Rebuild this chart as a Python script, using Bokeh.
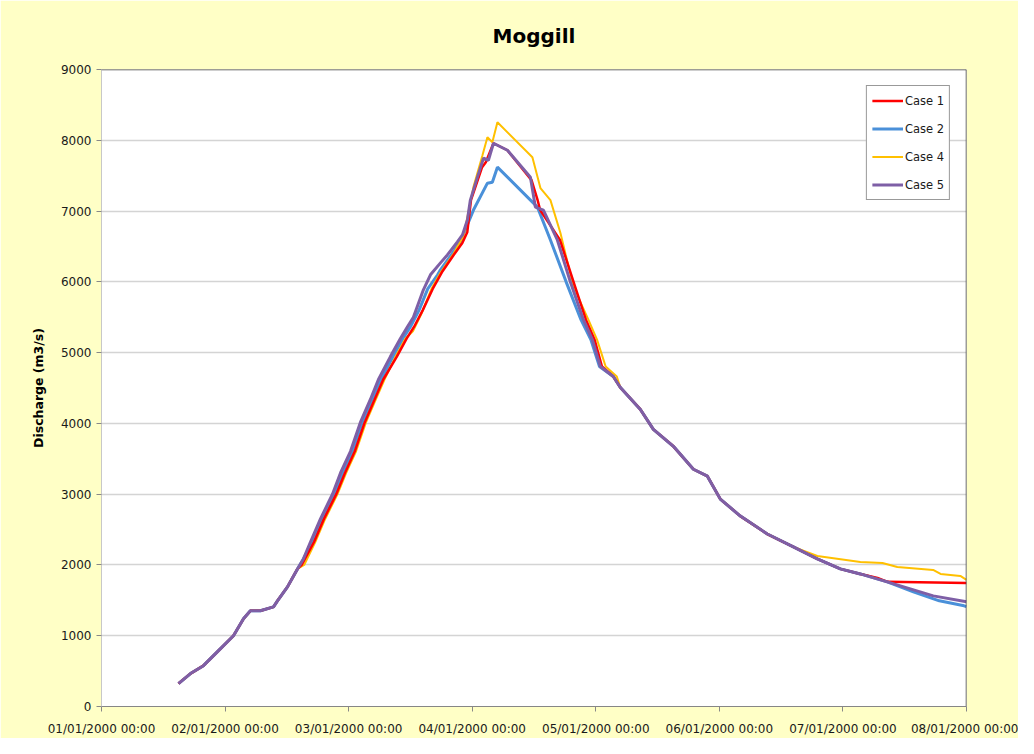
from bokeh.plotting import figure
from bokeh.models import FixedTicker, Span, Range1d
from bokeh.embed import file_html
from bokeh.resources import INLINE

# ---- data (days since 01/01/2000 00:00, discharge m3/s) ----
day_ticks = [0, 1, 2, 3, 4, 5, 6, 7]
day_labels = ["01/01/2000 00:00", "02/01/2000 00:00", "03/01/2000 00:00", "04/01/2000 00:00",
              "05/01/2000 00:00", "06/01/2000 00:00", "07/01/2000 00:00", "08/01/2000 00:00"]
y_ticks = [0, 1000, 2000, 3000, 4000, 5000, 6000, 7000, 8000, 9000]

t_case5 = [0.623, 0.720, 0.825, 0.939, 1.068, 1.149, 1.205, 1.286, 1.392, 1.424, 1.505, 1.586,
           1.634, 1.691, 1.772, 1.869, 1.934, 2.015, 2.095, 2.176, 2.241, 2.338, 2.419, 2.476,
           2.524, 2.605, 2.662, 2.743, 2.799, 2.880, 2.921, 2.961, 2.985, 3.042, 3.091, 3.131,
           3.172, 3.285, 3.471, 3.511, 3.576, 3.689, 3.794, 3.900, 3.972, 4.037, 4.142, 4.199,
           4.361, 4.466, 4.628, 4.790, 4.903, 5.008, 5.170, 5.388, 5.599, 5.793, 5.979, 6.141,
           6.359, 6.545, 6.731, 7.000]
v_case5 = [324, 465, 577, 775, 1000, 1239, 1352, 1352, 1408, 1493, 1690, 1944,
           2085, 2324, 2650, 3000, 3300, 3606, 4014, 4338, 4620, 4944, 5200, 5366,
           5500, 5887, 6099, 6268, 6380, 6563, 6662, 6873, 7155, 7479, 7746, 7718,
           7958, 7859, 7479, 7056, 7014, 6592, 6000, 5465, 5183, 4803, 4662, 4507,
           4197, 3915, 3676, 3352, 3254, 2930, 2690, 2437, 2254, 2085, 1944, 1873,
           1761, 1662, 1563, 1479]

t_case1 = [0.623, 0.720, 0.825, 0.939, 1.068, 1.149, 1.205, 1.286, 1.392, 1.424, 1.505, 1.586,
           1.62, 1.72, 1.80, 1.90, 1.97, 2.05, 2.13, 2.21, 2.28, 2.39, 2.47, 2.53, 2.60, 2.68,
           2.76, 2.85, 2.92, 2.96, 2.99, 3.08, 3.11, 3.172, 3.285, 3.48, 3.53, 3.55, 3.71, 3.82,
           3.92, 3.99, 4.05, 4.142, 4.199, 4.361, 4.466, 4.628, 4.790, 4.903, 5.008, 5.170,
           5.388, 5.599, 5.793, 5.979, 6.141, 6.28, 6.36, 7.000]
v_case1 = [324, 465, 577, 775, 1000, 1239, 1352, 1352, 1408, 1493, 1690, 1944,
           2000, 2324, 2650, 3000, 3300, 3606, 4014, 4338, 4620, 4944, 5200, 5366, 5600, 5900,
           6150, 6380, 6549, 6700, 7155, 7620, 7690, 7958, 7859, 7437, 7150, 7014, 6592, 6000,
           5465, 5183, 4803, 4662, 4507, 4197, 3915, 3676, 3352, 3254, 2930, 2690,
           2437, 2254, 2085, 1944, 1873, 1817, 1761, 1746]

t_case2 = [0.623, 0.720, 0.825, 0.939, 1.068, 1.149, 1.205, 1.286, 1.392, 1.424, 1.505, 1.586,
           1.634, 1.71, 1.79, 1.89, 1.95, 2.03, 2.11, 2.19, 2.26, 2.36, 2.44, 2.50, 2.57, 2.64,
           2.72, 2.743, 2.90, 3.01, 3.123, 3.163, 3.204, 3.528, 3.633, 3.76, 3.88, 3.96, 4.03,
           4.142, 4.199, 4.361, 4.466, 4.628, 4.790, 4.903, 5.008, 5.170, 5.388, 5.599, 5.793,
           5.979, 6.141, 6.359, 6.57, 6.78, 6.98, 7.000]
v_case2 = [324, 465, 577, 775, 1000, 1239, 1352, 1352, 1408, 1493, 1690, 1944,
           2085, 2324, 2650, 3000, 3300, 3606, 4014, 4338, 4620, 4944, 5200, 5366, 5600, 5900,
           6100, 6169, 6549, 7014, 7394, 7408, 7620, 7056, 6592, 6000, 5465, 5183, 4803,
           4662, 4507, 4197, 3915, 3676, 3352, 3254, 2930, 2690, 2437, 2254, 2085,
           1944, 1873, 1761, 1620, 1493, 1423, 1410]

t_case4 = [0.623, 0.720, 0.825, 0.939, 1.068, 1.149, 1.205, 1.286, 1.392, 1.424, 1.505, 1.586,
           1.64, 1.73, 1.81, 1.91, 1.98, 2.06, 2.14, 2.22, 2.29, 2.38, 2.46, 2.52, 2.59, 2.67,
           2.743, 2.85, 2.93, 3.010, 3.083, 3.123, 3.163, 3.204, 3.487, 3.552, 3.633, 3.714,
           3.819, 3.94, 4.01, 4.08, 4.17, 4.199, 4.361, 4.466, 4.628, 4.790, 4.903, 5.008,
           5.170, 5.388, 5.599, 5.793, 6.141, 6.32, 6.44, 6.73, 6.79, 6.95, 7.000]
v_case4 = [324, 465, 577, 775, 1000, 1239, 1352, 1352, 1408, 1493, 1690, 1944,
           2000, 2324, 2650, 3000, 3300, 3606, 4014, 4338, 4620, 4944, 5200, 5300, 5550, 5900,
           6127, 6400, 6650, 7338, 7788, 8042, 7972, 8254, 7761, 7324, 7155, 6690,
           5930, 5465, 5183, 4803, 4662, 4507, 4197, 3915, 3676, 3352, 3254, 2930,
           2690, 2437, 2254, 2127, 2042, 2028, 1972, 1930, 1873, 1845, 1789]

# ---- figure ----
FONT = "DejaVu Sans"
p = figure(width=1018, height=738, x_range=Range1d(0, 7), y_range=Range1d(0, 9000),
           output_backend="svg", toolbar_location=None, title="Moggill",
           min_border_left=101, min_border_right=52, min_border_top=69, min_border_bottom=30)
p.border_fill_color = "#FFFFC6"
p.background_fill_color = "#FFFFFF"
p.outline_line_color = None

p.title.align = "center"
p.title.text_font = FONT
p.title.text_font_size = "20px"
p.title.text_font_style = "bold"
p.title.text_color = "#000000"
p.title.standoff = 43

# axes
p.xaxis.ticker = FixedTicker(ticks=day_ticks)
p.xaxis.major_label_overrides = {t: lab for t, lab in zip(day_ticks, day_labels)}
p.yaxis.ticker = FixedTicker(ticks=y_ticks)
for ax in (p.xaxis, p.yaxis):
    ax.major_label_text_font = FONT
    ax.major_label_text_font_size = "12px"
    ax.major_label_text_color = "#1a1a1a"
    ax.minor_tick_line_color = None
    ax.major_tick_in = 0
    ax.major_tick_line_color = "#888888"
p.xaxis.major_tick_out = 5
p.yaxis.major_tick_out = 5
p.xaxis.axis_line_color = "#868686"
p.yaxis.axis_line_color = "#C8C8C8"
p.xaxis.major_label_standoff = 10
p.yaxis.major_label_standoff = 5
p.yaxis.axis_label = "Discharge (m3/s)"
p.yaxis.axis_label_text_font = FONT
p.yaxis.axis_label_text_font_size = "12.5px"
p.yaxis.axis_label_text_font_style = "bold"
p.yaxis.axis_label_text_color = "#000000"
p.yaxis.axis_label_standoff = 12

p.xgrid.grid_line_color = None
p.ygrid.grid_line_color = "#D4D4D4"
p.ygrid.grid_line_width = 1.5

# dark top / right frame edges
p.add_layout(Span(location=9000, dimension="width", line_color="#3c3c3c", line_width=1.5))
p.add_layout(Span(location=7, dimension="height", line_color="#3c3c3c", line_width=1.5))

# series
r2 = p.line(t_case2, v_case2, line_color="#4A90D9", line_width=3, legend_label="Case 2")
r4 = p.line(t_case4, v_case4, line_color="#FFC000", line_width=2, legend_label="Case 4")
r1 = p.line(t_case1, v_case1, line_color="#FF0000", line_width=2.5, legend_label="Case 1")
r5 = p.line(t_case5, v_case5, line_color="#7E5FA6", line_width=3, legend_label="Case 5")

lg = p.legend[0]
lg.items = [lg.items[2], lg.items[0], lg.items[1], lg.items[3]]
lg.location = "top_right"
lg.margin = 16
lg.padding = 5
lg.spacing = 9
lg.glyph_width = 31
lg.glyph_height = 19
lg.label_height = 19
lg.label_standoff = 2
lg.label_text_font = FONT
lg.label_text_font_size = "11.5px"
lg.label_text_color = "#1a1a1a"
lg.border_line_color = "#333333"
lg.border_line_width = 1.5
lg.background_fill_color = "#FFFFFF"
lg.background_fill_alpha = 1.0

open("out.html", "w").write(file_html(p, INLINE))
